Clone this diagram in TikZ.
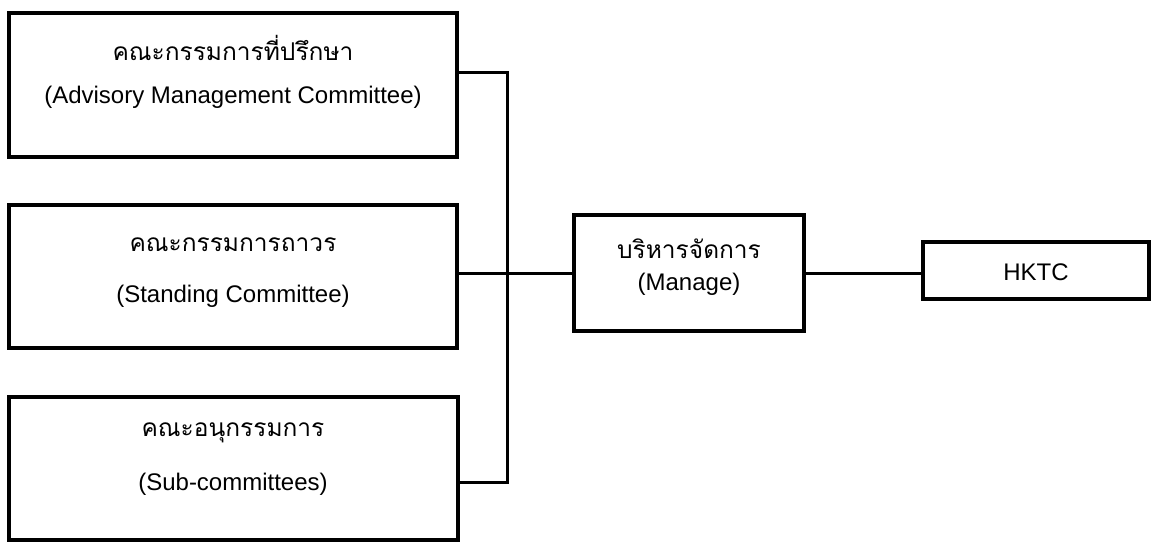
\documentclass[tikz,border=0pt]{standalone}
\usepackage{fontspec}
\setmainfont{Liberation Sans}
\newfontfamily\thaifont[Script=Thai]{Loma}
\begin{document}
\begin{tikzpicture}[x=1pt,y=-1pt,
  box/.style={draw, line width=3.2pt, rectangle, inner sep=0pt},
  link/.style={line width=3pt},
  en/.style={font=\fontsize{24}{28}\selectfont, inner sep=0pt},
  th/.style={font=\thaifont\fontsize{24.5}{28}\selectfont, inner sep=0pt}]
\useasboundingbox (0,0) rectangle (1152,542);

% committee boxes
\node[box, minimum width=448pt, minimum height=144pt] (b1) at (233,85) {};
\node[box, minimum width=448pt, minimum height=143pt] (b2) at (233,276.5) {};
\node[box, minimum width=449pt, minimum height=143pt] (b3) at (233.5,468.5) {};
% management and HKTC boxes
\node[box, minimum width=230pt, minimum height=116pt] (mg) at (689,273) {};
\node[box, minimum width=226pt, minimum height=57pt] (hk) at (1036,270.5) {};

% labels
\node[th, anchor=base] (t1) at (233,60) {คณะกรรมการที่ปรึกษา};
\node[en, anchor=mid] (e1) at (233,101) {(Advisory Management Committee)};
\node[th, anchor=base] (t2) at (233,251) {คณะกรรมการถาวร};
\node[en, anchor=mid] (e2) at (233,300) {(Standing Committee)};
\node[th, anchor=base] (t3) at (233,436) {คณะอนุกรรมการ};
\node[en, anchor=mid] (e3) at (233,488) {(Sub-committees)};
\node[th, anchor=base] (t4) at (689,258) {บริหารจัดการ};
\node[en, anchor=mid] (e4) at (689,288) {(Manage)};
\node[en, anchor=base] (e5) at (1036,280.5) {HKTC};

% connectors
\coordinate (j1) at (507,72);
\coordinate (j3) at (507,482);
\draw[link] (b1.east |- j1) -- (j1) -- (j3) -- (b3.east |- j3);
\draw[link] (b2.east |- mg.west) -- (mg.west);
\draw[link] (mg.east) -- (mg.east -| hk.west);
\end{tikzpicture}
\end{document}
